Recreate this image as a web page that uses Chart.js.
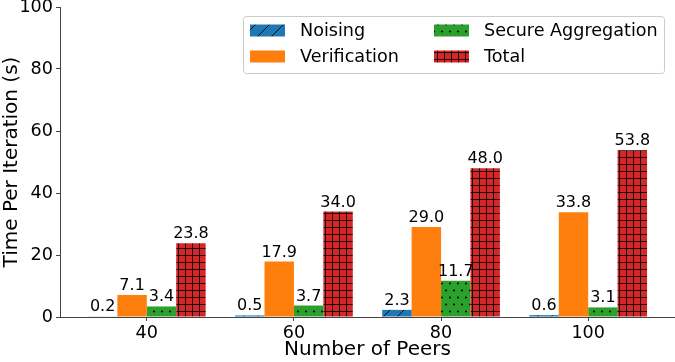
<!DOCTYPE html>
<html>
<head>
<meta charset="utf-8">
<script src="https://cdn.jsdelivr.net/npm/chart.js@4"></script>
<style>
  html, body { margin: 0; padding: 0; background: #fff; }
  #wrap { width: 675px; height: 362px; }
</style>
</head>
<body>
<div id="wrap"><canvas id="peersChart"></canvas></div>
<script>
const peers = ["40", "60", "80", "100"];
const noising = [0.2, 0.5, 2.3, 0.6];
const verification = [7.1, 17.9, 29.0, 33.8];
const secureAgg = [3.4, 3.7, 11.7, 3.1];
const total = [23.8, 34.0, 48.0, 53.8];
const yTicks = [0, 20, 40, 60, 80, 100];

const FONT = "'DejaVu Sans', sans-serif";

// hatch fills like the matplotlib ones
function makePattern(color, hatch) {
    const c = document.createElement("canvas");
    const g = c.getContext("2d");
    if (hatch === "/") {
        c.width = 14; c.height = 14;
        g.fillStyle = color;
        g.fillRect(0, 0, 14, 14);
        g.strokeStyle = "rgba(0,0,0,0.85)";
        g.lineWidth = 1;
        g.beginPath();
        g.moveTo(-1, 15); g.lineTo(15, -1);
        g.moveTo(-8, 8); g.lineTo(8, -8);
        g.moveTo(6, 22); g.lineTo(22, 6);
        g.stroke();
    } else if (hatch === "+") {
        c.width = 7; c.height = 7;
        g.fillStyle = color;
        g.fillRect(0, 0, 7, 7);
        g.fillStyle = "rgba(0,0,0,0.85)";
        g.fillRect(3, 0, 1, 7);
        g.fillRect(0, 3, 7, 1);
    } else if (hatch === ".") {
        c.width = 8; c.height = 14;
        g.fillStyle = color;
        g.fillRect(0, 0, 8, 14);
        g.fillStyle = "#000";
        g.beginPath();
        g.arc(2, 3.5, 1, 0, Math.PI * 2);
        g.arc(6, 10.5, 1, 0, Math.PI * 2);
        g.fill();
    } else {
        return color;
    }
    return g.createPattern(c, "repeat");
}

const series = [
    { label: "Noising", values: noising, color: "#1f77b4", hatch: "/" },
    { label: "Verification", values: verification, color: "#ff7f0e", hatch: "" },
    { label: "Secure Aggregation", values: secureAgg, color: "#2ca02c", hatch: "." },
    { label: "Total", values: total, color: "#d62728", hatch: "+" }
];
series.forEach(s => s.fill = makePattern(s.color, s.hatch));

// numbers above each bar
const valueLabels = {
    id: "valueLabels",
    afterDatasetsDraw(chart) {
        const ctx = chart.ctx;
        ctx.save();
        ctx.font = "16px " + FONT;
        ctx.fillStyle = "#000";
        ctx.textAlign = "center";
        ctx.textBaseline = "alphabetic";
        chart.data.datasets.forEach((ds, i) => {
            chart.getDatasetMeta(i).data.forEach((bar, j) => {
                ctx.fillText(ds.data[j].y.toFixed(1), bar.x, bar.y - 5);
            });
        });
        ctx.restore();
    }
};

// two-column legend, column-major like matplotlib ncol=2
const boxLegend = {
    id: "boxLegend",
    afterDraw(chart) {
        const ctx = chart.ctx;
        const area = chart.chartArea;
        const boxW = 421, boxH = 57;
        const bx = area.right - 11 - boxW;
        const by = area.top + 9;
        ctx.save();
        ctx.fillStyle = "rgba(255,255,255,0.8)";
        ctx.strokeStyle = "#cccccc";
        ctx.lineWidth = 1;
        ctx.beginPath();
        ctx.roundRect(bx + 0.5, by + 0.5, boxW, boxH, 3);
        ctx.fill();
        ctx.stroke();
        ctx.font = "17.6px " + FONT;
        ctx.textBaseline = "middle";
        ctx.fillStyle = "#000";
        const cols = [bx + 7, bx + 191];
        const rows = [by + 14.5, by + 40.5];
        series.forEach((s, k) => {
            const cx = cols[Math.floor(k / 2)];
            const cy = rows[k % 2];
            ctx.fillStyle = s.fill;
            ctx.fillRect(cx, cy - 6, 35, 12);
            ctx.fillStyle = "#000";
            ctx.fillText(s.label, cx + 50, cy + 1);
        });
        ctx.restore();
    }
};

const ctx = document.getElementById("peersChart").getContext("2d");
new Chart(ctx, {
    type: "bar",
    data: {
        datasets: series.map(s => ({
            label: s.label,
            data: s.values.map((v, i) => ({ x: i, y: v })),
            backgroundColor: s.fill,
            borderWidth: 0,
            categoryPercentage: 0.8,
            barPercentage: 1.0
        }))
    },
    options: {
        responsive: true,
        maintainAspectRatio: false,
        animation: false,
        layout: { padding: { top: 7, right: 0, left: 0, bottom: 0 } },
        plugins: {
            legend: { display: false },
            tooltip: { enabled: false }
        },
        scales: {
            x: {
                type: "linear",
                offset: false,
                min: -0.59,
                max: 3.59,
                afterBuildTicks: scale => {
                    scale.ticks = peers.map((p, i) => ({ value: i }));
                },
                afterFit: scale => {
                    scale.height = 45;
                    scale.paddingLeft = 0;
                    scale.paddingRight = 0;
                },
                ticks: {
                    callback: (v) => peers[v],
                    color: "#000",
                    font: { family: FONT, size: 17.6 },
                    padding: 2,
                    maxRotation: 0
                },
                grid: {
                    offset: false,
                    drawOnChartArea: false,
                    drawTicks: true,
                    tickLength: 4,
                    color: "#444"
                },
                border: { display: true, color: "#444", width: 1 },
                title: {
                    display: true,
                    text: "Number of Peers",
                    color: "#000",
                    font: { family: FONT, size: 20 },
                    padding: { top: 0, bottom: 0 }
                }
            },
            y: {
                min: 0,
                max: 100,
                afterBuildTicks: scale => {
                    scale.ticks = yTicks.map(v => ({ value: v }));
                },
                afterFit: scale => {
                    scale.width = 60;
                    scale.paddingTop = 0;
                    scale.paddingBottom = 0;
                },
                ticks: {
                    color: "#000",
                    font: { family: FONT, size: 17.6 },
                    padding: 3
                },
                grid: {
                    drawOnChartArea: false,
                    drawTicks: true,
                    tickLength: 4,
                    color: "#444"
                },
                border: { display: true, color: "#444", width: 1 },
                title: {
                    display: true,
                    text: "Time Per Iteration (s)",
                    color: "#000",
                    font: { family: FONT, size: 20 },
                    padding: { top: 0, bottom: 0 }
                }
            }
        }
    },
    plugins: [valueLabels, boxLegend]
});
</script>
</body>
</html>
